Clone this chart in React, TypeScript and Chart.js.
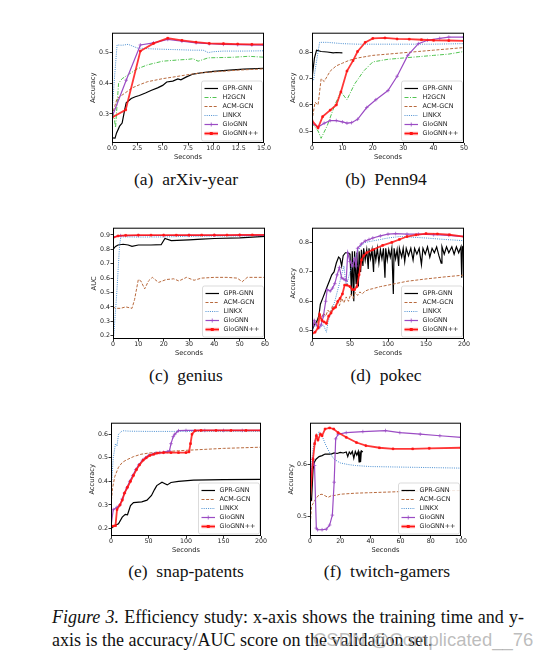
import { useEffect, useRef } from 'react';
import { Chart, registerables } from 'chart.js';

Chart.register(...registerables);

type Pt = [number, number];

// (a) arXiv-year
const ARXIV_GPR: Pt[] = [[0, 0.222], [0.3, 0.221], [0.45, 0.238], [0.75, 0.26], [1.0, 0.27], [1.25, 0.313], [1.4, 0.336], [1.9, 0.35], [2.3, 0.356], [2.7, 0.36], [3.3, 0.368], [3.9, 0.377], [4.5, 0.385], [5.0, 0.393], [5.4, 0.404], [6.0, 0.407], [6.5, 0.414], [6.8, 0.411], [7.3, 0.42], [8.0, 0.43], [9.0, 0.435], [10, 0.439], [11.6, 0.443], [13, 0.446], [15, 0.449]];
const ARXIV_H2GCN: Pt[] = [[0, 0.33], [0.2, 0.29], [0.35, 0.255], [0.5, 0.33], [0.65, 0.4], [1.0, 0.415], [1.6, 0.428], [2.5, 0.447], [3.5, 0.46], [5.0, 0.472], [6.5, 0.476], [7.5, 0.478], [8.0, 0.48], [8.5, 0.472], [9.5, 0.483], [11, 0.484], [12, 0.485], [13.5, 0.488], [15, 0.485]];
const ARXIV_ACM: Pt[] = [[0, 0.295], [0.5, 0.35], [1.2, 0.366], [2.0, 0.385], [2.7, 0.395], [3.5, 0.405], [5.0, 0.415], [6.0, 0.42], [7.5, 0.428], [9.0, 0.435], [10.5, 0.438], [12.5, 0.443], [15, 0.447]];
const ARXIV_LINKX: Pt[] = [[0, 0.3], [0.25, 0.42], [0.5, 0.525], [1.0, 0.524], [1.6, 0.527], [2.5, 0.515], [4.0, 0.512], [6.0, 0.51], [8.0, 0.508], [9.0, 0.508], [9.5, 0.5], [10, 0.503], [11, 0.505], [13, 0.505], [15, 0.506]];
const ARXIV_GLO: Pt[] = [[0, 0.29], [1.4, 0.41], [2.8, 0.525], [4.1, 0.532], [5.5, 0.543], [6.9, 0.537], [8.3, 0.532], [9.6, 0.529], [11, 0.527], [12.4, 0.526], [13.8, 0.525], [15, 0.524]];
const ARXIV_GLOPP: Pt[] = [[0, 0.288], [1.35, 0.313], [2.8, 0.505], [4.1, 0.53], [5.5, 0.547], [6.9, 0.54], [8.3, 0.534], [9.6, 0.53], [11, 0.529], [12.4, 0.528], [13.8, 0.527], [15, 0.527]];
const ARXIV_X_TICKS = [0, 2.5, 5, 7.5, 10, 12.5, 15];
const ARXIV_Y_TICKS = [0.3, 0.4, 0.5];

// (b) Penn94
const PENN_GPR: Pt[] = [[0, 0.7], [0.8, 0.78], [1.5, 0.81], [3, 0.805], [5, 0.803], [7, 0.8], [8, 0.801], [10, 0.8]];
const PENN_H2GCN: Pt[] = [[0, 0.53], [2, 0.5], [3, 0.472], [5, 0.52], [7.5, 0.6], [9.5, 0.65], [11.5, 0.62], [14, 0.68], [17, 0.73], [20, 0.765], [25, 0.775], [30, 0.78], [35, 0.785], [40, 0.79], [45, 0.795], [50, 0.805]];
const PENN_ACM: Pt[] = [[0, 0.54], [1, 0.61], [2, 0.6], [3, 0.7], [4, 0.69], [6, 0.73], [8, 0.75], [10, 0.76], [12, 0.77], [15, 0.78], [20, 0.79], [25, 0.795], [30, 0.8], [35, 0.805], [40, 0.81], [45, 0.815], [50, 0.82]];
const PENN_LINKX: Pt[] = [[0.5, 0.695], [2.5, 0.84], [5, 0.84], [10, 0.835], [15, 0.833], [20, 0.833], [30, 0.833], [40, 0.833], [50, 0.835]];
const PENN_GLO: Pt[] = [[0, 0.53], [2, 0.515], [4, 0.53], [6, 0.54], [8, 0.54], [10, 0.535], [11.5, 0.53], [13, 0.532], [15, 0.545], [18, 0.59], [21, 0.62], [25, 0.655], [28, 0.71], [31.5, 0.79], [35, 0.835], [38, 0.848], [42, 0.855], [45, 0.86], [50, 0.86]];
const PENN_GLOPP: Pt[] = [[0, 0.54], [2, 0.512], [3.5, 0.555], [6, 0.58], [8, 0.6], [9.5, 0.65], [11.5, 0.73], [13.5, 0.77], [15, 0.805], [17.5, 0.84], [20, 0.855], [24, 0.857], [28, 0.853], [32, 0.852], [36, 0.85], [40, 0.848], [45, 0.847], [50, 0.846]];
const PENN_X_TICKS = [0, 10, 20, 30, 40, 50];
const PENN_Y_TICKS = [0.5, 0.6, 0.7, 0.8];

// (c) genius
const GENIUS_GPR: Pt[] = [[0, 0.8], [1, 0.82], [2, 0.83], [4, 0.835], [6, 0.83], [7.5, 0.82], [10, 0.83], [15, 0.83], [19, 0.832], [20.5, 0.875], [23, 0.86], [30, 0.865], [35, 0.87], [40, 0.875], [50, 0.88], [60, 0.89]];
const GENIUS_ACM: Pt[] = [[0, 0.4], [1, 0.39], [3, 0.39], [5, 0.4], [7.5, 0.39], [8.5, 0.45], [10, 0.59], [11, 0.58], [12.5, 0.525], [14, 0.58], [15.5, 0.605], [18, 0.57], [21, 0.59], [24, 0.595], [26, 0.58], [29, 0.605], [32, 0.585], [35, 0.6], [40, 0.605], [45, 0.605], [49, 0.6], [51, 0.575], [53, 0.605], [60, 0.605]];
const GENIUS_LINKX: Pt[] = [[0.3, 0.2], [1.5, 0.5], [2.6, 0.83], [3.1, 0.887], [10, 0.885], [20, 0.886], [30, 0.89], [45, 0.892], [60, 0.895]];
const GENIUS_GLO: Pt[] = [[0, 0.885], [3, 0.895], [10, 0.896], [20, 0.896], [30, 0.897], [40, 0.897], [50, 0.897], [60, 0.897]];
const GENIUS_GLOPP: Pt[] = [[0, 0.88], [2, 0.893], [5, 0.897], [10, 0.898], [15, 0.898], [20, 0.898], [25, 0.898], [30, 0.898], [35, 0.899], [40, 0.899], [45, 0.899], [50, 0.9], [55, 0.9], [60, 0.9]];
const GENIUS_X_TICKS = [0, 10, 20, 30, 40, 50, 60];
const GENIUS_Y_TICKS = [0.2, 0.3, 0.4, 0.5, 0.6, 0.7, 0.8, 0.9];

// (d) pokec
const POKEC_GPR: Pt[] = [[0, 0.5], [3, 0.52], [6, 0.53], [9, 0.55], [11, 0.59], [14, 0.61], [17, 0.63], [20, 0.65], [23, 0.67], [26, 0.69], [29, 0.7], [32, 0.73], [35, 0.75], [37, 0.745], [39, 0.72], [41, 0.755], [44, 0.765], [47, 0.765], [50, 0.76], [52, 0.62], [53, 0.77], [55, 0.6], [56, 0.77], [58, 0.66], [59, 0.765], [61, 0.65], [62, 0.77], [64, 0.7], [65, 0.775], [67, 0.72], [68, 0.78], [70, 0.74], [72, 0.775], [74, 0.71], [75, 0.78], [77, 0.745], [79, 0.775], [81, 0.7], [82, 0.78], [84, 0.74], [86, 0.78], [88, 0.73], [90, 0.775], [92, 0.745], [94, 0.78], [96, 0.68], [97, 0.78], [99, 0.74], [101, 0.775], [103, 0.75], [105, 0.78], [107, 0.625], [108, 0.78], [110, 0.745], [112, 0.775], [114, 0.72], [115, 0.78], [118, 0.75], [120, 0.78], [122, 0.735], [124, 0.78], [127, 0.755], [130, 0.78], [133, 0.74], [135, 0.78], [138, 0.76], [141, 0.78], [144, 0.725], [146, 0.78], [149, 0.76], [152, 0.785], [155, 0.75], [158, 0.78], [161, 0.765], [164, 0.785], [167, 0.755], [170, 0.73], [171, 0.785], [174, 0.76], [177, 0.785], [180, 0.765], [184, 0.785], [187, 0.76], [190, 0.785], [193, 0.765], [196, 0.785], [197, 0.68], [198, 0.785], [200, 0.78]];
const POKEC_ACM: Pt[] = [[0, 0.5], [3, 0.53], [6, 0.52], [9, 0.55], [12, 0.54], [15, 0.56], [18, 0.55], [21, 0.57], [24, 0.56], [27, 0.585], [30, 0.575], [33, 0.6], [36, 0.585], [39, 0.61], [42, 0.595], [45, 0.615], [48, 0.6], [51, 0.625], [54, 0.61], [57, 0.63], [60, 0.62], [63, 0.632], [66, 0.625], [70, 0.635], [75, 0.64], [80, 0.643], [90, 0.65], [100, 0.655], [125, 0.668], [150, 0.676], [175, 0.683], [200, 0.689]];
const POKEC_LINKX: Pt[] = [[0, 0.5], [5, 0.52], [10, 0.51], [15, 0.52], [19, 0.495], [21, 0.53], [25, 0.56], [30, 0.6], [35, 0.65], [40, 0.7], [42, 0.72], [45, 0.65], [50, 0.7], [55, 0.74], [60, 0.77], [65, 0.79], [70, 0.8], [80, 0.805], [90, 0.81], [100, 0.815], [115, 0.82], [130, 0.818], [150, 0.815], [175, 0.81], [200, 0.806]];
const POKEC_GLO: Pt[] = [[0, 0.5], [3, 0.535], [6, 0.52], [9, 0.51], [12, 0.52], [15, 0.55], [18, 0.6], [20, 0.64], [24, 0.635], [27, 0.645], [30, 0.66], [33, 0.69], [36, 0.715], [39, 0.68], [42, 0.675], [45, 0.67], [47, 0.765], [50, 0.735], [53, 0.72], [56, 0.745], [58, 0.72], [60, 0.78], [65, 0.795], [70, 0.805], [75, 0.81], [80, 0.815], [90, 0.822], [100, 0.828], [110, 0.83], [125, 0.828], [140, 0.828], [160, 0.826], [180, 0.824], [200, 0.82]];
const POKEC_GLOPP: Pt[] = [[0, 0.49], [4, 0.495], [8, 0.51], [10, 0.555], [13, 0.535], [16, 0.53], [19, 0.525], [22, 0.55], [25, 0.56], [28, 0.575], [31, 0.58], [34, 0.6], [37, 0.61], [40, 0.625], [43, 0.655], [46, 0.655], [50, 0.65], [53, 0.64], [56, 0.64], [59, 0.65], [62, 0.69], [65, 0.74], [68, 0.755], [72, 0.765], [80, 0.775], [93, 0.79], [105, 0.8], [115, 0.81], [125, 0.82], [137, 0.826], [150, 0.83], [165, 0.829], [181, 0.826], [200, 0.82]];
const POKEC_X_TICKS = [0, 50, 100, 150, 200];
const POKEC_Y_TICKS = [0.5, 0.6, 0.7, 0.8];

// (e) snap-patents
const SNAP_GPR: Pt[] = [[0, 0.2], [5, 0.213], [10, 0.22], [15, 0.248], [19, 0.26], [22, 0.258], [26, 0.297], [30, 0.31], [41, 0.313], [48, 0.32], [54, 0.34], [58, 0.365], [61, 0.382], [68, 0.396], [72, 0.39], [75, 0.385], [80, 0.395], [90, 0.4], [110, 0.405], [150, 0.407], [200, 0.408]];
const SNAP_ACM: Pt[] = [[0, 0.3], [2, 0.37], [5, 0.42], [10, 0.46], [15, 0.48], [20, 0.49], [30, 0.505], [40, 0.515], [50, 0.52], [70, 0.525], [90, 0.53], [120, 0.535], [150, 0.54], [200, 0.545]];
const SNAP_LINKX: Pt[] = [[0, 0.35], [3, 0.5], [6, 0.56], [8, 0.55], [10, 0.6], [15, 0.615], [25, 0.613], [50, 0.612], [100, 0.612], [200, 0.612]];
const SNAP_GLO: Pt[] = [[0, 0.21], [3, 0.28], [8, 0.29], [12, 0.3], [15, 0.325], [18, 0.35], [21, 0.372], [25, 0.4], [29, 0.425], [33, 0.45], [37, 0.47], [42, 0.49], [46, 0.5], [50, 0.51], [55, 0.515], [60, 0.52], [65, 0.522], [70, 0.523], [75, 0.526], [78, 0.53], [80, 0.56], [83, 0.59], [85, 0.6], [90, 0.615], [100, 0.616], [125, 0.616], [150, 0.616], [175, 0.616], [200, 0.616]];
const SNAP_GLOPP: Pt[] = [[0, 0.21], [3, 0.21], [6, 0.212], [8, 0.28], [12, 0.3], [15, 0.32], [18, 0.35], [22, 0.375], [26, 0.4], [30, 0.425], [34, 0.45], [38, 0.47], [43, 0.49], [47, 0.5], [52, 0.51], [57, 0.515], [62, 0.52], [70, 0.522], [80, 0.522], [90, 0.522], [100, 0.522], [104, 0.525], [106, 0.56], [108, 0.6], [112, 0.615], [120, 0.616], [140, 0.616], [160, 0.616], [180, 0.616], [200, 0.616]];
const SNAP_X_TICKS = [0, 50, 100, 150, 200];
const SNAP_Y_TICKS = [0.2, 0.3, 0.4, 0.5, 0.6];

// (f) twitch-gamers
const TWITCH_GPR: Pt[] = [[1, 0.53], [2, 0.59], [3, 0.605], [4, 0.61], [6, 0.615], [8, 0.617], [10, 0.62], [12, 0.62], [14, 0.62], [16, 0.622], [18, 0.621], [20, 0.623], [22, 0.622], [24, 0.624], [25, 0.615], [26, 0.624], [27, 0.62], [28, 0.625], [29, 0.612], [30, 0.625], [31, 0.618], [32, 0.625], [32.5, 0.605], [33, 0.625], [33.5, 0.605], [34, 0.626], [35, 0.624]];
const TWITCH_ACM: Pt[] = [[0, 0.478], [1, 0.52], [2, 0.525], [3, 0.53], [4, 0.535], [6, 0.542], [8, 0.543], [10, 0.54], [12, 0.537], [14, 0.54], [17, 0.541], [20, 0.543], [30, 0.545], [40, 0.546], [60, 0.548], [80, 0.55], [100, 0.55]];
const TWITCH_LINKX: Pt[] = [[0, 0.52], [1, 0.6], [2, 0.63], [3, 0.645], [4, 0.65], [5, 0.655], [6, 0.663], [7, 0.66], [8, 0.655], [10, 0.64], [12, 0.628], [14, 0.618], [16, 0.61], [20, 0.603], [25, 0.6], [30, 0.598], [40, 0.596], [60, 0.595], [80, 0.594], [100, 0.593]];
const TWITCH_GLO: Pt[] = [[0, 0.56], [2, 0.61], [3, 0.598], [4.2, 0.478], [5, 0.475], [8, 0.475], [10.8, 0.476], [13, 0.484], [14.8, 0.503], [16, 0.566], [17, 0.649], [18.6, 0.658], [24, 0.661], [35, 0.663], [50, 0.665], [59.5, 0.661], [73, 0.658], [86, 0.655], [100, 0.652]];
const TWITCH_GLOPP: Pt[] = [[0, 0.53], [2, 0.61], [3.1, 0.64], [4.2, 0.655], [5.3, 0.647], [6.9, 0.658], [8, 0.655], [10, 0.668], [13, 0.67], [15.7, 0.668], [18.6, 0.661], [24, 0.652], [30.8, 0.642], [37, 0.636], [46, 0.632], [55, 0.63], [68, 0.63], [79, 0.631], [100, 0.632]];
const TWITCH_X_TICKS = [0, 20, 40, 60, 80, 100];
const TWITCH_Y_TICKS = [0.5, 0.6];

const STYLE: Record<string, { color: string; width: number; dash: number[]; point?: 'cross' | 'rect' }> = {
  'GPR-GNN': { color: '#000000', width: 1.2, dash: [] },
  'H2GCN': { color: '#52c452', width: 1, dash: [4, 1.5, 1, 1.5] },
  'ACM-GCN': { color: '#b86a3e', width: 1, dash: [3, 1.6] },
  'LINKX': { color: '#4b8fd1', width: 1, dash: [1, 1.2] },
  'GloGNN': { color: '#9b4cc4', width: 1.2, dash: [], point: 'cross' },
  'GloGNN++': { color: '#ff1414', width: 1.8, dash: [], point: 'rect' },
};

const Y_AXIS_W = 23;
const X_AXIS_H = 18;
const PAD_TOP = 4;
const PAD_RIGHT = 14;

interface PanelProps {
  box: [number, number, number, number];
  xRange: [number, number];
  yRange: [number, number];
  xTicks: number[];
  yTicks: number[];
  xDec: number;
  yTitle: string;
  series: [string, Pt[]][];
}

const frameLegend = {
  id: 'frameLegend',
  afterDraw(chart: any, _args: any, opts: any) {
    const { ctx, chartArea: a } = chart;
    ctx.save();
    ctx.strokeStyle = '#000';
    ctx.lineWidth = 1;
    ctx.strokeRect(a.left + 0.5, a.top + 0.5, a.right - a.left - 1, a.bottom - a.top - 1);

    const names: string[] = opts.names || [];
    const pitch = 9;
    const h = (names.length - 1) * pitch + 15;
    const w = 61;
    const bx = a.right - 1.5 - w;
    const by = a.bottom - 2 - h;
    ctx.beginPath();
    ctx.roundRect(bx, by, w, h, 2);
    ctx.fillStyle = 'rgba(255,255,255,0.85)';
    ctx.fill();
    ctx.strokeStyle = '#d2d2d2';
    ctx.lineWidth = 0.8;
    ctx.stroke();

    ctx.font = '6.4px "DejaVu Sans"';
    ctx.textBaseline = 'middle';
    names.forEach((n, i) => {
      const s = STYLE[n];
      const cy = by + 7.5 + i * pitch;
      const x0 = bx + 3;
      const x1 = bx + 16.5;
      if (n === 'GloGNN++') {
        ctx.strokeStyle = 'rgba(255,90,90,0.45)';
        ctx.lineWidth = 3.5;
        ctx.setLineDash([]);
        ctx.beginPath();
        ctx.moveTo(x0, cy);
        ctx.lineTo(x1, cy);
        ctx.stroke();
      }
      ctx.strokeStyle = s.color;
      ctx.lineWidth = n === 'GloGNN++' ? 1.5 : s.width;
      ctx.setLineDash(s.dash);
      ctx.beginPath();
      ctx.moveTo(x0, cy);
      ctx.lineTo(x1, cy);
      ctx.stroke();
      ctx.setLineDash([]);
      const mx = (x0 + x1) / 2;
      if (s.point === 'rect') {
        ctx.fillStyle = s.color;
        ctx.fillRect(mx - 1.5, cy - 1.5, 3, 3);
      } else if (s.point === 'cross') {
        ctx.lineWidth = 0.8;
        ctx.beginPath();
        ctx.moveTo(mx - 2, cy);
        ctx.lineTo(mx + 2, cy);
        ctx.moveTo(mx, cy - 2);
        ctx.lineTo(mx, cy + 2);
        ctx.stroke();
      }
      ctx.fillStyle = '#222';
      ctx.fillText(n, bx + 21, cy + 0.3);
    });
    ctx.restore();
  },
};

function Panel({ box, xRange, yRange, xTicks, yTicks, xDec, yTitle, series }: PanelProps) {
  const chartRef = useRef<HTMLCanvasElement>(null);
  const chartInstance = useRef<Chart | null>(null);
  const [left, top, w, h] = box;
  const cw = w + Y_AXIS_W + PAD_RIGHT;
  const ch = h + PAD_TOP + X_AXIS_H;

  useEffect(() => {
    if (!chartRef.current) return;
    if (chartInstance.current) chartInstance.current.destroy();
    const ctx = chartRef.current.getContext('2d');
    if (!ctx) return;

    const tickFont = { family: 'DejaVu Sans', size: 6.3, lineHeight: 1 };
    const titleFont = { family: 'DejaVu Sans', size: 6.7, lineHeight: 1.2 };
    const grid = { display: true, drawOnChartArea: false, drawTicks: true, tickLength: 2.5, color: '#000', lineWidth: 0.8 };

    chartInstance.current = new Chart(ctx, {
      type: 'line',
      data: {
        datasets: series.map(([name, pts], i) => {
          const s = STYLE[name];
          return {
            label: name,
            data: pts.map(([x, y]) => ({ x, y })),
            order: series.length - i,
            borderColor: name === 'GloGNN++' ? 'rgba(255,20,20,0.85)' : s.color,
            backgroundColor: s.color,
            borderWidth: s.width,
            borderDash: s.dash,
            pointRadius: s.point ? (s.point === 'rect' ? 1.25 : 1.8) : 0,
            pointStyle: s.point || 'circle',
            pointBorderColor: s.color,
            pointBackgroundColor: s.color,
            pointBorderWidth: 0.7,
            tension: 0,
            fill: false,
          };
        }),
      },
      options: {
        animation: false,
        responsive: false,
        events: [],
        layout: { padding: { top: PAD_TOP, right: PAD_RIGHT, left: 0, bottom: 0 } },
        plugins: {
          legend: { display: false },
          tooltip: { enabled: false },
          frameLegend: { names: series.map(([n]) => n) },
        } as any,
        scales: {
          x: {
            type: 'linear',
            min: xRange[0],
            max: xRange[1],
            afterBuildTicks: (s: any) => { s.ticks = xTicks.map((v) => ({ value: v })); },
            afterFit: (s: any) => { s.height = X_AXIS_H; s.paddingLeft = 0; s.paddingRight = 0; },
            grid,
            border: { display: false },
            ticks: { autoSkip: false, maxRotation: 0, padding: 0, color: '#222', font: tickFont, callback: (v: any) => Number(v).toFixed(xDec) },
            title: { display: true, text: 'Seconds', color: '#222', padding: 0, font: titleFont },
          },
          y: {
            type: 'linear',
            min: yRange[0],
            max: yRange[1],
            afterBuildTicks: (s: any) => { s.ticks = yTicks.map((v) => ({ value: v })); },
            afterFit: (s: any) => { s.width = Y_AXIS_W; s.paddingTop = 0; s.paddingBottom = 0; },
            grid,
            border: { display: false },
            ticks: { autoSkip: false, padding: 0.5, color: '#222', font: tickFont, callback: (v: any) => Number(v).toFixed(1) },
            title: { display: true, text: yTitle, color: '#222', padding: 0, font: titleFont },
          },
        },
      } as any,
      plugins: [frameLegend],
    });

    return () => {
      if (chartInstance.current) {
        chartInstance.current.destroy();
        chartInstance.current = null;
      }
    };
  }, [box, xRange, yRange, xTicks, yTicks, xDec, yTitle, series]);

  return (
    <canvas
      ref={chartRef}
      width={cw}
      height={ch}
      style={{ position: 'absolute', left: left - Y_AXIS_W, top: top - PAD_TOP, width: cw, height: ch }}
    />
  );
}

const PANELS: (PanelProps & { caption: string; cx: number; cy: number })[] = [
  {
    box: [112, 32, 152, 111], xRange: [0, 15], yRange: [0.205, 0.565], xTicks: ARXIV_X_TICKS, yTicks: ARXIV_Y_TICKS, xDec: 1, yTitle: 'Accuracy',
    series: [['GPR-GNN', ARXIV_GPR], ['H2GCN', ARXIV_H2GCN], ['ACM-GCN', ARXIV_ACM], ['LINKX', ARXIV_LINKX], ['GloGNN', ARXIV_GLO], ['GloGNN++', ARXIV_GLOPP]],
    caption: '(a)\u2002arXiv-year', cx: 186, cy: 179,
  },
  {
    box: [312, 32, 152, 111], xRange: [0, 50], yRange: [0.454, 0.877], xTicks: PENN_X_TICKS, yTicks: PENN_Y_TICKS, xDec: 0, yTitle: 'Accuracy',
    series: [['GPR-GNN', PENN_GPR], ['H2GCN', PENN_H2GCN], ['ACM-GCN', PENN_ACM], ['LINKX', PENN_LINKX], ['GloGNN', PENN_GLO], ['GloGNN++', PENN_GLOPP]],
    caption: '(b)\u2002Penn94', cx: 386, cy: 179,
  },
  {
    box: [113, 227, 152, 112], xRange: [0, 60], yRange: [0.177, 0.95], xTicks: GENIUS_X_TICKS, yTicks: GENIUS_Y_TICKS, xDec: 0, yTitle: 'AUC',
    series: [['GPR-GNN', GENIUS_GPR], ['ACM-GCN', GENIUS_ACM], ['LINKX', GENIUS_LINKX], ['GloGNN', GENIUS_GLO], ['GloGNN++', GENIUS_GLOPP]],
    caption: '(c)\u2002genius', cx: 186, cy: 375,
  },
  {
    box: [312, 227, 152, 112], xRange: [0, 200], yRange: [0.472, 0.85], xTicks: POKEC_X_TICKS, yTicks: POKEC_Y_TICKS, xDec: 0, yTitle: 'Accuracy',
    series: [['GPR-GNN', POKEC_GPR], ['ACM-GCN', POKEC_ACM], ['LINKX', POKEC_LINKX], ['GloGNN', POKEC_GLO], ['GloGNN++', POKEC_GLOPP]],
    caption: '(d)\u2002pokec', cx: 386, cy: 375,
  },
  {
    box: [111, 422, 150, 114], xRange: [0, 200], yRange: [0.168, 0.649], xTicks: SNAP_X_TICKS, yTicks: SNAP_Y_TICKS, xDec: 0, yTitle: 'Accuracy',
    series: [['GPR-GNN', SNAP_GPR], ['ACM-GCN', SNAP_ACM], ['LINKX', SNAP_LINKX], ['GloGNN', SNAP_GLO], ['GloGNN++', SNAP_GLOPP]],
    caption: '(e)\u2002snap-patents', cx: 186, cy: 571,
  },
  {
    box: [310, 422, 151, 114], xRange: [0, 100], yRange: [0.463, 0.68], xTicks: TWITCH_X_TICKS, yTicks: TWITCH_Y_TICKS, xDec: 0, yTitle: 'Accuracy',
    series: [['GPR-GNN', TWITCH_GPR], ['ACM-GCN', TWITCH_ACM], ['LINKX', TWITCH_LINKX], ['GloGNN', TWITCH_GLO], ['GloGNN++', TWITCH_GLOPP]],
    caption: '(f)\u2002twitch-gamers', cx: 387, cy: 571,
  },
];

const serif = '"Liberation Serif", "Times New Roman", serif';

export default function App() {
  return (
    <div style={{ position: 'absolute', left: 0, top: 0, width: 552, height: 662, background: '#fff', overflow: 'hidden' }}>
      {PANELS.map((p, i) => (
        <div key={i}>
          <Panel {...p} />
          <div style={{ position: 'absolute', left: p.cx - 120, top: p.cy - 11, width: 240, height: 22, lineHeight: '22px', textAlign: 'center', fontFamily: serif, fontSize: 17.5, color: '#111', whiteSpace: 'nowrap' }}>
            {p.caption}
          </div>
        </div>
      ))}
      <div style={{ position: 'absolute', left: 52, top: 606, width: 472, fontFamily: serif, fontSize: 18, lineHeight: '23px', color: '#111', whiteSpace: 'nowrap' }}>
        <div style={{ textAlign: 'justify', textAlignLast: 'justify' }}><i>Figure 3.</i> Efficiency study: x-axis shows the training time and y-</div>
        <div>axis is the accuracy/AUC score on the validation set.</div>
      </div>
      <div style={{ position: 'absolute', left: 313, top: 628, fontFamily: '"Liberation Sans", Arial, sans-serif', fontSize: 18.5, lineHeight: '24px', color: 'rgba(160,160,160,0.7)', whiteSpace: 'nowrap' }}>
        CSDN @Complicated__76
      </div>
    </div>
  );
}
